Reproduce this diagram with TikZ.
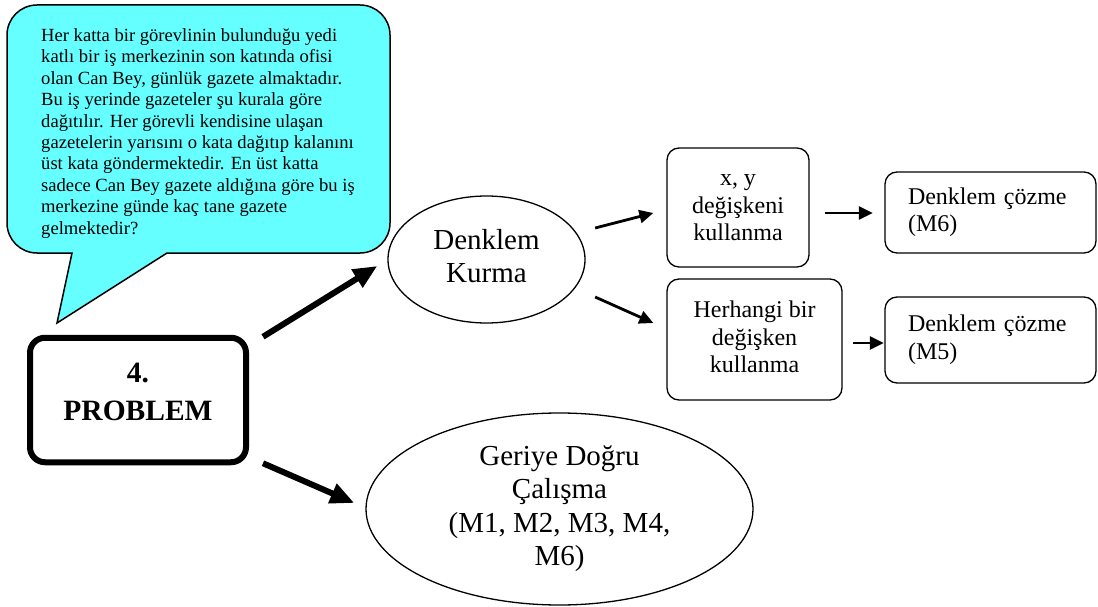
\documentclass[tikz,border=0pt]{standalone}
\usepackage{fontspec}
\setmainfont{Liberation Serif}
\usetikzlibrary{arrows.meta,shapes.geometric}
\definecolor{bubble-cyan}{RGB}{102,255,255}

\begin{document}
\begin{tikzpicture}[x=1pt,y=-1pt,
  big-text/.style={font=\fontsize{29}{33.5}\selectfont},
  box-text/.style={font=\fontsize{24}{27.5}\selectfont},
  round-box/.style={draw=black,line width=1.3pt,rounded corners=12pt,inner sep=0pt,align=center,box-text},
  oval/.style={ellipse,draw=black,line width=1.3pt,inner sep=0pt,align=center,big-text},
  thick-arrow/.style={line width=6pt,-{Triangle[length=24pt,width=20pt]}},
  thin-arrow/.style={line width=2.8pt,-{Triangle[length=14pt,width=13pt]}}]
\useasboundingbox (0,0) rectangle (1098,607);
\path[fill=bubble-cyan,draw=black,line width=1.5pt] (72,253) -- (57,323) -- (167,253) -- (360,253) .. controls (376.6,253) and (390,239.6) .. (390,223) -- (390,35) .. controls (390,18.4) and (376.6,5) .. (360,5) -- (37,5) .. controls (20.4,5) and (7,18.4) .. (7,35) -- (7,223) .. controls (7,239.6) and (20.4,253) .. (37,253) -- cycle;
\node[anchor=north west,inner sep=0pt,align=left,font=\fontsize{18.6}{21.4}\selectfont] (question-text) at (41,28.3) {Her katta bir görevlinin bulunduğu yedi\\katlı bir iş merkezinin son katında ofisi\\olan Can Bey, günlük gazete almaktadır.\\Bu iş yerinde gazeteler şu kurala göre\\dağıtılır. Her görevli kendisine ulaşan\\gazetelerin yarısını o kata dağıtıp kalanını\\üst kata göndermektedir. En üst katta\\sadece Can Bey gazete aldığına göre bu iş\\merkezine günde kaç tane gazete\\gelmektedir?};
\node[draw=black,line width=6pt,rounded corners=15pt,minimum width=216pt,minimum height=124.5pt,inner sep=0pt,align=center,font=\bfseries\fontsize{29.5}{38}\selectfont] (problem-box) at (138,400) {\strut 4.\\PROBLEM\rule[-24.6pt]{0pt}{24.6pt}};
\node[oval,minimum width=197pt,minimum height=127pt] (equation-setup) at (486.5,259.5) {\strut Denklem\\Kurma\strut};
\node[oval,minimum width=387pt,minimum height=192pt] (backward-work) at (559.5,509) {\strut Geriye Doğru\\Çalışma\\(M1, M2, M3, M4,\\M6)\strut};
\node[round-box,minimum width=142pt,minimum height=119pt] (xy-vars) at (738,207.5) {\strut x, y\\değişkeni\\kullanma\strut};
\node[round-box,minimum width=175pt,minimum height=121pt] (any-var) at (754.5,339.5) {\strut Herhangi bir\\değişken\\kullanma\strut};
\node[round-box,align=left,text width=165pt,inner xsep=23pt,minimum height=81pt] (solve-m6) at (990.5,212.5) {\strut Denklem çözme\\(M6)\strut};
\node[round-box,align=left,text width=165pt,inner xsep=23pt,minimum height=86pt] (solve-m5) at (990.5,340) {\strut Denklem çözme\\(M5)\strut};
\draw[thick-arrow] ([shift={(14,2)}]problem-box.north east) -- ([shift={(-10,6.5)}]equation-setup.west);
\draw[thick-arrow] ([shift={(14,-2)}]problem-box.south east) -- ([shift={(-11,-6)}]backward-work.west);
\draw[thin-arrow] ([shift={(9.5,-31.5)}]equation-setup.east) -- ([shift={(-13,5.5)}]xy-vars.west);
\draw[thin-arrow] ([shift={(9.5,37.5)}]equation-setup.east) -- ([shift={(-13,-16.5)}]any-var.west);
\draw[thin-arrow] ([shift={(15.5,5.5)}]xy-vars.east) -- ([shift={(-11.5,0.5)}]solve-m6.west);
\draw[thin-arrow] ([shift={(10.5,3.5)}]any-var.east) -- ([shift={(-0.5,3)}]solve-m5.west);
\end{tikzpicture}
\end{document}
